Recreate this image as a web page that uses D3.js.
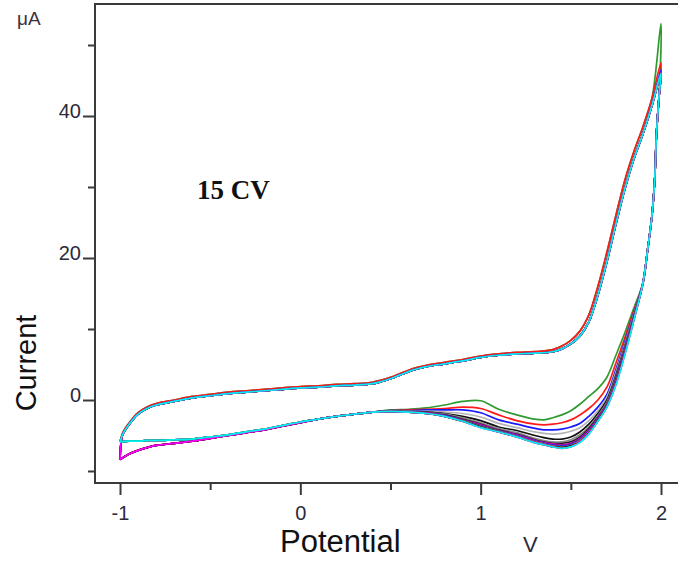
<!DOCTYPE html>
<html><head><meta charset="utf-8">
<script src="https://cdn.jsdelivr.net/npm/d3@7"></script>
<style>body{margin:0;background:#fff} svg{display:block}</style>
</head><body>
<svg id="chart" width="678" height="565"></svg>
<script>
// ---------- data ----------
const xTicksMajor = [-1, 0, 1, 2];
const xTicksMinor = [-0.5, 0.5, 1.5];
const yTicksMajor = [0, 20, 40];
const yTicksMinor = [-10, 10, 30, 50];

// anodic (forward) sweep
const potentialAnodic = [-0.99, -0.98, -0.96, -0.93, -0.90, -0.85, -0.80, -0.70, -0.60, -0.50, -0.40, -0.30, -0.20, -0.10, 0.00, 0.10, 0.20, 0.30, 0.40, 0.45, 0.50, 0.55, 0.60, 0.65, 0.70, 0.80, 0.90, 1.00, 1.10, 1.20, 1.30, 1.40, 1.45, 1.50, 1.55, 1.60, 1.65, 1.70, 1.75, 1.80, 1.85, 1.90, 1.95];
const currentAnodic      = [-5.2, -4.6, -3.8, -2.8, -2.0, -1.2, -0.7, -0.2, 0.3, 0.6, 0.9, 1.1, 1.3, 1.5, 1.7, 1.8, 2.0, 2.1, 2.3, 2.6, 3.0, 3.5, 4.0, 4.4, 4.7, 5.1, 5.5, 6.0, 6.3, 6.5, 6.6, 6.8, 7.2, 7.9, 9.0, 11.0, 14.8, 19.5, 24.8, 29.8, 34.0, 37.5, 41.5];
const currentAnodicEarly = [-5.0, -4.4, -3.6, -2.6, -1.8, -1.0, -0.5, 0.0, 0.5, 0.8, 1.1, 1.3, 1.5, 1.7, 1.9, 2.0, 2.2, 2.3, 2.5, 2.8, 3.2, 3.7, 4.2, 4.6, 4.9, 5.3, 5.7, 6.2, 6.5, 6.7, 6.8, 7.1, 7.6, 8.4, 9.7, 12.0, 16.0, 20.8, 26.0, 31.0, 35.0, 38.5, 42.5];

// vertex current at 2.0 V per cycle
const vertexCurrent = [53, 47.5, 46.5, 46, 46, 46, 46, 46, 46, 46, 46, 46, 46, 46, 46];

// cathodic (reverse) sweep: common high part
const potentialCathodicHigh = [1.99, 1.975, 1.965, 1.95, 1.925, 1.90];
const currentCathodicHigh   = [43, 37.5, 31.0, 26.0, 21.0, 16.5];

// cathodic middle part, one array per cycle
const potentialCathodicMid = [1.85, 1.80, 1.75, 1.70, 1.65, 1.60, 1.55, 1.50, 1.45, 1.40, 1.35, 1.30, 1.20, 1.10, 1.00, 0.90, 0.80, 0.70, 0.60, 0.50];
const cycle1Mid  = [13.0, 9.5, 6.3, 3.2, 1.6, 0.5, -0.6, -1.5, -2.1, -2.5, -2.8, -2.7, -2.1, -1.3, -0.1, -0.2, -0.7, -1.1, -1.3, -1.4];
const cycle2Mid  = [12.6, 8.8, 5.2, 1.8, 0.0, -1.2, -2.1, -2.8, -3.2, -3.4, -3.5, -3.4, -2.9, -2.1, -1.2, -1.0, -1.2, -1.3, -1.4, -1.5];
const cycle3Mid  = [12.3, 8.2, 4.3, 0.8, -1.0, -2.3, -3.3, -3.8, -4.1, -4.2, -4.2, -4.0, -3.4, -2.8, -1.8, -1.4, -1.4, -1.4, -1.5, -1.5];
const cycle4Mid  = [12.1, 7.9, 3.9, 0.4, -1.5, -2.9, -3.9, -4.4, -4.7, -4.8, -4.7, -4.5, -3.9, -3.3, -2.4, -1.9, -1.7, -1.6, -1.6, -1.6];
const cycle5Mid  = [11.9, 7.6, 3.5, 0.0, -1.9, -3.4, -4.5, -5.2, -5.5, -5.5, -5.3, -5.0, -4.3, -3.8, -2.9, -2.3, -1.9, -1.7, -1.6, -1.6];
const cycle6Mid  = [11.8, 7.4, 3.2, -0.3, -2.2, -3.8, -4.9, -5.6, -5.9, -5.9, -5.7, -5.4, -4.6, -4.0, -3.2, -2.5, -2.0, -1.8, -1.6, -1.6];
const cycle7Mid  = [11.7, 7.2, 3.0, -0.5, -2.4, -4.0, -5.2, -5.9, -6.1, -6.1, -5.9, -5.6, -4.8, -4.2, -3.4, -2.7, -2.1, -1.8, -1.7, -1.6];
const cycle8Mid  = [11.6, 7.1, 2.8, -0.6, -2.5, -4.2, -5.4, -6.1, -6.3, -6.2, -6.0, -5.7, -4.9, -4.3, -3.5, -2.8, -2.2, -1.8, -1.7, -1.6];
const cycle9Mid  = [11.6, 7.0, 2.7, -0.7, -2.6, -4.3, -5.5, -6.2, -6.4, -6.3, -6.1, -5.8, -5.0, -4.3, -3.6, -2.8, -2.2, -1.9, -1.7, -1.6];
const cycle10Mid = [11.5, 6.9, 2.6, -0.8, -2.7, -4.4, -5.6, -6.3, -6.5, -6.4, -6.1, -5.8, -5.0, -4.4, -3.7, -2.9, -2.2, -1.9, -1.7, -1.6];
const cycle11Mid = [11.5, 6.8, 2.5, -0.8, -2.8, -4.5, -5.7, -6.4, -6.6, -6.5, -6.2, -5.9, -5.1, -4.4, -3.7, -2.9, -2.3, -1.9, -1.7, -1.6];
const cycle12Mid = [11.4, 6.7, 2.4, -0.9, -2.9, -4.6, -5.8, -6.5, -6.7, -6.5, -6.2, -5.9, -5.1, -4.5, -3.8, -3.0, -2.3, -1.9, -1.7, -1.6];
const cycle13Mid = [11.4, 6.6, 2.3, -0.9, -2.9, -4.7, -5.9, -6.5, -6.7, -6.6, -6.3, -6.0, -5.2, -4.5, -3.8, -3.0, -2.3, -1.9, -1.7, -1.6];
const cycle14Mid = [11.3, 6.5, 2.2, -1.0, -3.0, -4.7, -5.9, -6.6, -6.8, -6.6, -6.3, -6.0, -5.2, -4.5, -3.9, -3.0, -2.3, -1.9, -1.7, -1.6];
const cycle15Mid = [11.3, 6.4, 2.1, -1.0, -3.0, -4.8, -6.0, -6.6, -6.8, -6.6, -6.3, -6.0, -5.2, -4.5, -3.9, -3.0, -2.3, -1.9, -1.7, -1.6];
const cyclesMid = [cycle1Mid, cycle2Mid, cycle3Mid, cycle4Mid, cycle5Mid, cycle6Mid, cycle7Mid, cycle8Mid, cycle9Mid, cycle10Mid, cycle11Mid, cycle12Mid, cycle13Mid, cycle14Mid, cycle15Mid];

// cathodic low part, two shapes
const potentialCathodicLow = [0.40, 0.30, 0.20, 0.10, 0.00, -0.10, -0.20, -0.30, -0.40, -0.50, -0.60, -0.70, -0.80, -0.85, -0.90, -0.95, -1.00];
const currentCathodicLowA  = [-1.7, -2.0, -2.3, -2.7, -3.1, -3.6, -4.1, -4.5, -4.9, -5.2, -5.5, -5.6, -5.7, -5.7, -5.8, -5.8, -5.9];
const currentCathodicLowB  = [-1.7, -2.0, -2.3, -2.7, -3.2, -3.7, -4.2, -4.6, -5.0, -5.4, -5.8, -6.1, -6.4, -6.7, -7.1, -7.6, -8.4];
const cycleLowShape = ["A", "A", "A", "A", "B", "A", "B", "B", "B", "A", "A", "B", "B", "B", "A"];

const cycleColors = ["#2f9a2f", "#ff1a1a", "#1a1aff", "#b4b4b4", "#111111", "#8a8a8a", "#222222", "#e000e0", "#800080", "#2a2aff", "#30b030", "#ff3030", "#000000", "#ff00ff", "#00f0f0"];

// ---------- chart ----------
const svg = d3.select("#chart");
const x = d3.scaleLinear().domain([-1, 2]).range([120, 661]);
const y = d3.scaleLinear().domain([0, 40]).range([400, 116]);

const frameLeft = 95, frameTop = 4, frameBottom = 483, frameRight = 720;

svg.append("defs").append("clipPath").attr("id", "clip")
  .append("rect").attr("x", frameLeft).attr("y", frameTop).attr("width", frameRight - frameLeft).attr("height", frameBottom - frameTop);

const cycles = cyclesMid.map((mid, c) => {
  const low = cycleLowShape[c] === "A" ? currentCathodicLowA : currentCathodicLowB;
  const an = c < 2 ? currentAnodicEarly : currentAnodic;
  const pts = [];
  pts.push([-1.0, low[low.length - 1]]);
  potentialAnodic.forEach((e, i) => pts.push([e, an[i]]));
  pts.push([2.0, vertexCurrent[c]]);
  potentialCathodicHigh.forEach((e, i) => pts.push([e, currentCathodicHigh[i]]));
  potentialCathodicMid.forEach((e, i) => pts.push([e, mid[i]]));
  potentialCathodicLow.forEach((e, i) => pts.push([e, low[i]]));
  return pts;
});

const lineGen = d3.line().x(d => x(d[0])).y(d => y(d[1])).curve(d3.curveCatmullRom.alpha(0.5));

svg.append("g").attr("clip-path", "url(#clip)")
  .selectAll("path").data(cycles).join("path")
  .attr("d", d => lineGen(d))
  .attr("fill", "none")
  .attr("stroke", (d, i) => cycleColors[i])
  .attr("stroke-width", 1.7)
  .attr("stroke-linejoin", "round");

const axisColor = "#3a3a3a";
svg.append("line").attr("x1", frameLeft).attr("x2", frameRight).attr("y1", frameTop).attr("y2", frameTop)
  .attr("stroke", axisColor).attr("stroke-width", 2);

// left axis
const yAxis = d3.axisLeft(y).tickValues(yTicksMajor).tickSize(12).tickPadding(2).tickSizeOuter(0).tickFormat(d => String(d));
const gy = svg.append("g").attr("transform", `translate(${frameLeft},0)`).call(yAxis);
const yAxisMinor = d3.axisLeft(y).tickValues(yTicksMinor).tickSize(7).tickSizeOuter(0).tickFormat("");
const gym = svg.append("g").attr("transform", `translate(${frameLeft},0)`).call(yAxisMinor);
[gy, gym].forEach(g => {
  g.select(".domain").remove();
  g.selectAll("line").attr("stroke", axisColor).attr("stroke-width", 2);
});
gy.selectAll("text").attr("font-family", "Liberation Sans, Arial, sans-serif").attr("font-size", 20)
  .attr("fill", "#2a2a3a").attr("dy", "0.05em");
svg.append("line").attr("x1", frameLeft).attr("x2", frameLeft).attr("y1", frameTop - 1).attr("y2", frameBottom + 1)
  .attr("stroke", axisColor).attr("stroke-width", 2);

// bottom axis
const xAxis = d3.axisBottom(x).tickValues(xTicksMajor).tickSize(12).tickPadding(11).tickSizeOuter(0).tickFormat(d => String(d));
const gx = svg.append("g").attr("transform", `translate(0,${frameBottom})`).call(xAxis);
const xAxisMinor = d3.axisBottom(x).tickValues(xTicksMinor).tickSize(7).tickSizeOuter(0).tickFormat("");
const gxm = svg.append("g").attr("transform", `translate(0,${frameBottom})`).call(xAxisMinor);
[gx, gxm].forEach(g => {
  g.select(".domain").remove();
  g.selectAll("line").attr("stroke", axisColor).attr("stroke-width", 2);
});
gx.selectAll("text").attr("font-family", "Liberation Sans, Arial, sans-serif").attr("font-size", 20)
  .attr("fill", "#2a2a3a");
svg.append("line").attr("x1", frameLeft).attr("x2", frameRight).attr("y1", frameBottom).attr("y2", frameBottom)
  .attr("stroke", axisColor).attr("stroke-width", 2);

// labels
const sans = "Liberation Sans, Arial, sans-serif";
svg.append("text").attr("x", 17).attr("y", 25).attr("font-family", sans).attr("font-size", 19).attr("fill", "#3a3040").text("μA");
svg.append("text").attr("transform", "translate(36,363) rotate(-90)").attr("text-anchor", "middle")
  .attr("font-family", sans).attr("font-size", 29).attr("fill", "#111").text("Current");
svg.append("text").attr("x", 280).attr("y", 552).attr("font-family", sans).attr("font-size", 31).attr("fill", "#111").text("Potential");
svg.append("text").attr("x", 523).attr("y", 552).attr("font-family", sans).attr("font-size", 22).attr("fill", "#2a2a3a").text("V");
svg.append("text").attr("x", 197).attr("y", 199).attr("font-family", "Liberation Serif, Times New Roman, serif")
  .attr("font-weight", "bold").attr("font-size", 27).attr("fill", "#111").text("15 CV");
</script>
</body></html>
